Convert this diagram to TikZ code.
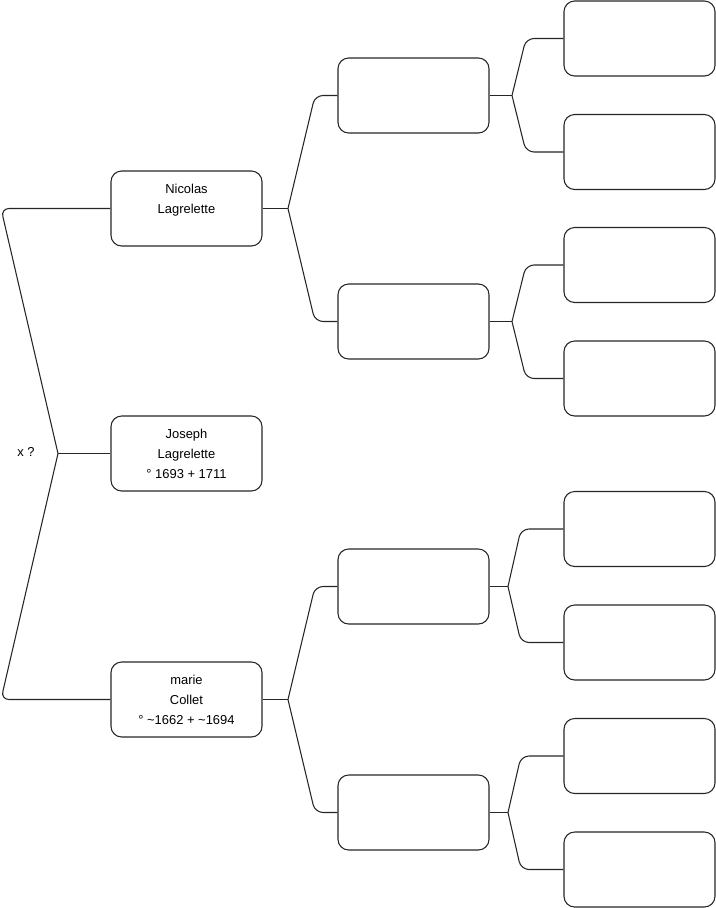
\documentclass[tikz,border=0pt]{standalone}
\usepackage{fontspec}
\setmainfont{Liberation Sans}
\begin{document}
\begin{tikzpicture}[x=0.75pt,y=-0.75pt,
  person/.style={draw=black!85, line width=0.8pt, rounded corners=8pt,
    minimum width=113.25pt, minimum height=56.25pt, inner sep=0pt,
    align=center, font=\fontsize{9.7}{15}\selectfont},
  link/.style={draw=black!85, line width=0.8pt},
  elbowlink/.style={link, rounded corners=6pt},
  lbl/.style={inner sep=0pt, font=\fontsize{9.7}{15}\selectfont}]
\useasboundingbox (0,0) rectangle (716,908);
% generation 1
\node[person] (nic) at (186.5,208.5) {Nicolas\\Lagrelette\\\mbox{}};
\node[person] (jos) at (186.5,453.5) {Joseph\\Lagrelette\\° 1693 + 1711};
\node[person] (mar) at (186.5,699.5) {marie\\Collet\\° \textasciitilde1662 + \textasciitilde1694};
% generation 2
\node[person] (a) at (413.5,95.5) {};
\node[person] (b) at (413.5,321.5) {};
\node[person] (c) at (413.5,586.5) {};
\node[person] (d) at (413.5,812.5) {};
% generation 3
\node[person] (a1) at (639.5,38.5) {};
\node[person] (a2) at (639.5,152) {};
\node[person] (b1) at (639.5,265) {};
\node[person] (b2) at (639.5,378.5) {};
\node[person] (c1) at (639.5,529) {};
\node[person] (c2) at (639.5,642.5) {};
\node[person] (d1) at (639.5,756) {};
\node[person] (d2) at (639.5,869.5) {};
% root
\node[lbl] (x) at (26,452) {x ?};
\coordinate (r) at (58,453.5);
\draw[elbowlink] (r) -- (1,0 |- nic.west) -- (nic.west);
\draw[link] (r) -- (jos.west);
\draw[elbowlink] (r) -- (1,0 |- mar.west) -- (mar.west);
% branch points
\coordinate (bn) at (288,208.5);
\coordinate (bm) at (288,699.5);
\coordinate (ba) at (512,95.5);
\coordinate (bb) at (512,321.5);
\coordinate (bc) at (508,586.5);
\coordinate (bd) at (508,812.5);
\draw[link] (nic.east) -- (bn);
\draw[link] (mar.east) -- (bm);
\draw[link] (a.east) -- (ba);
\draw[link] (b.east) -- (bb);
\draw[link] (c.east) -- (bc);
\draw[link] (d.east) -- (bd);
\draw[elbowlink] (bn) -- (315,0 |- a.west) -- (a.west);
\draw[elbowlink] (bn) -- (315,0 |- b.west) -- (b.west);
\draw[elbowlink] (bm) -- (315,0 |- c.west) -- (c.west);
\draw[elbowlink] (bm) -- (315,0 |- d.west) -- (d.west);
\draw[elbowlink] (ba) -- (526,0 |- a1.west) -- (a1.west);
\draw[elbowlink] (ba) -- (526,0 |- a2.west) -- (a2.west);
\draw[elbowlink] (bb) -- (526,0 |- b1.west) -- (b1.west);
\draw[elbowlink] (bb) -- (526,0 |- b2.west) -- (b2.west);
\draw[elbowlink] (bc) -- (521,0 |- c1.west) -- (c1.west);
\draw[elbowlink] (bc) -- (521,0 |- c2.west) -- (c2.west);
\draw[elbowlink] (bd) -- (521,0 |- d1.west) -- (d1.west);
\draw[elbowlink] (bd) -- (521,0 |- d2.west) -- (d2.west);
\end{tikzpicture}
\end{document}
